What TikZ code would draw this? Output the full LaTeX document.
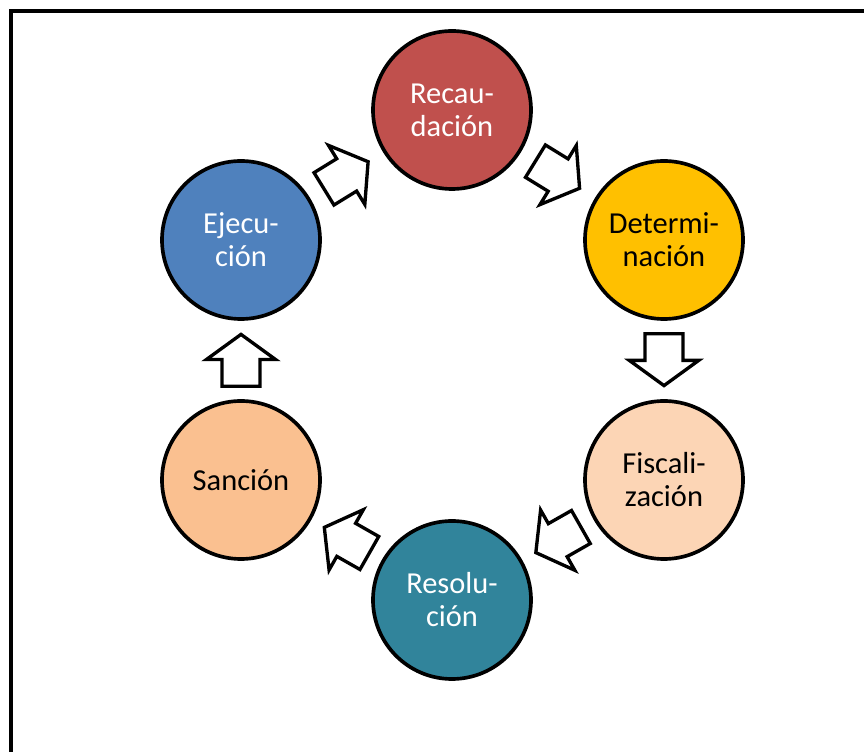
\documentclass[tikz,border=0pt]{standalone}
\usepackage{fontspec}
\setmainfont{Carlito}
\usetikzlibrary{shapes.arrows,calc}

\definecolor{recred}{HTML}{C0504D}
\definecolor{detyellow}{HTML}{FFC000}
\definecolor{fispeach}{HTML}{FCD5B5}
\definecolor{resteal}{HTML}{31849B}
\definecolor{sanorange}{HTML}{FAC090}
\definecolor{ejeblue}{HTML}{4F81BD}

\tikzset{
  stage/.style={circle, draw=black, line width=0.11cm, minimum size=4.74cm,
    inner sep=0pt, align=center, font=\fontsize{26}{28.2}\selectfont},
  flow/.style={single arrow, draw=black, fill=white, line width=0.1cm,
    inner sep=0.52cm, single arrow head extend=0.47cm,
    single arrow tip angle=108, minimum height=1.2cm},
}

\begin{document}
\begin{tikzpicture}[x=0.03cm,y=0.03cm]
  \useasboundingbox (0,0) rectangle (864,751);
  \clip (0,0) rectangle (864,751);

  % Drawing frame
  \draw [line width=0.1cm] (11,-20) -- (11,740) -- (900,740);%

  % Placing stages
  \node [stage, fill=recred, text=white] (rec) at (452,641) {Recau-\\dación};%
  \node [stage, fill=detyellow] (det) at (664,511) {Determi-\\nación};%
  \node [stage, fill=fispeach] (fis) at (664,271) {Fiscali-\\zación};%
  \node [stage, fill=resteal, text=white] (res) at (452,151) {Resolu-\\ción};%
  \node [stage, fill=sanorange] (san) at (241,271) {Sanción};%
  \node [stage, fill=ejeblue, text=white] (eje) at (241,511) {Ejecu-\\ción};%

  % Drawing block arrows between stages
  \node [flow, rotate=31.6] (eje-rec) at ($(eje)!0.47!(rec)$) {};%
  \node [flow, rotate=-31.6] (rec-det) at ($(rec)!0.47!(det)$) {};%
  \node [flow, rotate=-90] (det-fis) at ($(det)!0.47!(fis)$) {};%
  \node [flow, rotate=-150.4] (fis-res) at ($(fis)!0.47!(res)$) {};%
  \node [flow, rotate=150.4] (res-san) at ($(res)!0.47!(san)$) {};%
  \node [flow, rotate=90] (san-eje) at ($(san)!0.47!(eje)$) {};%
\end{tikzpicture}
\end{document}
